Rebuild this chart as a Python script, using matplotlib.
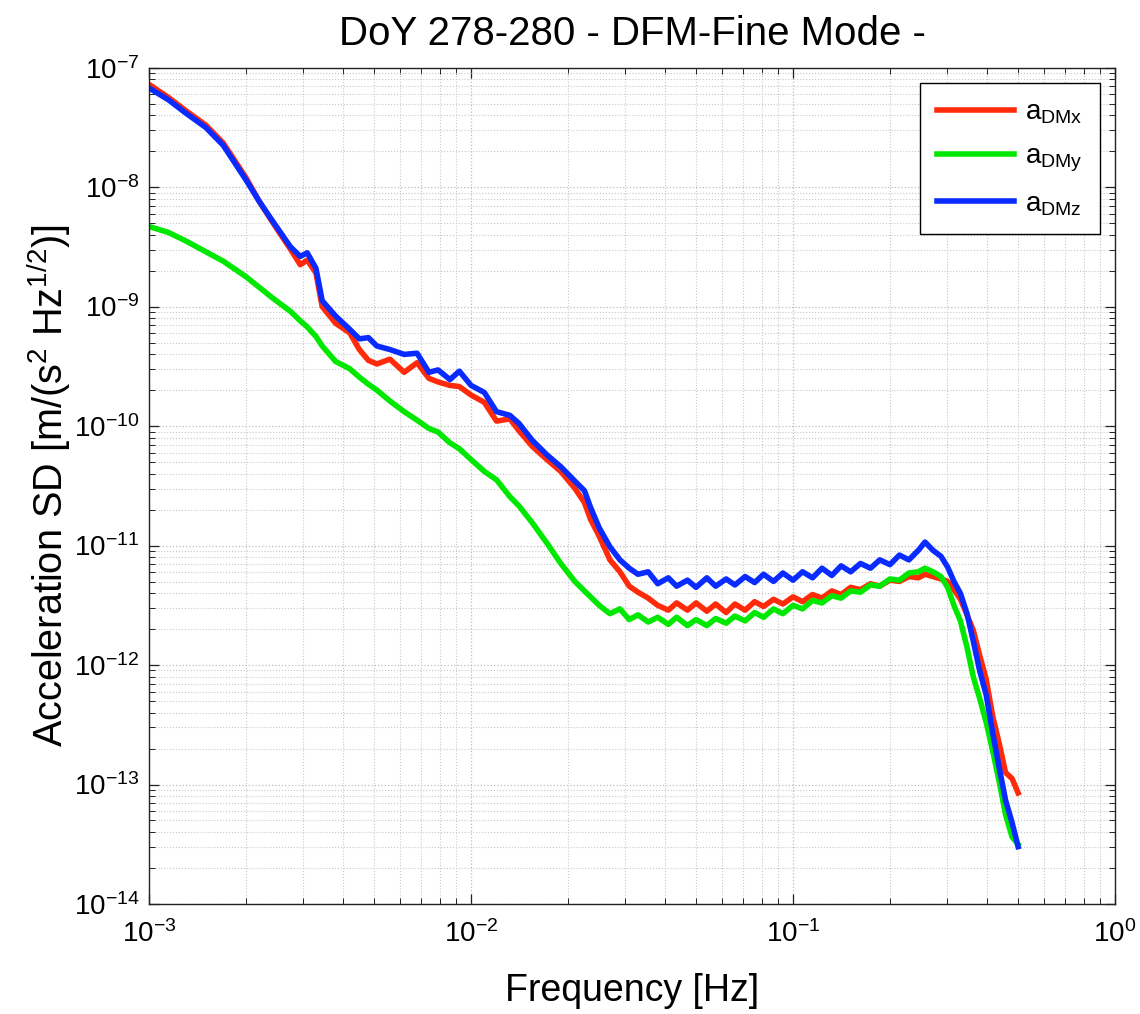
import numpy as np
import matplotlib
matplotlib.use("Agg")
import matplotlib.pyplot as plt
from matplotlib.ticker import LogLocator, LogFormatterMathtext

plt.rcParams['font.family'] = ['Liberation Sans', 'DejaVu Sans']
plt.rcParams['mathtext.fontset'] = 'custom'
plt.rcParams['mathtext.rm'] = 'Liberation Sans'
plt.rcParams['mathtext.it'] = 'Liberation Sans:italic'
plt.rcParams['mathtext.default'] = 'regular'

# frequency bins [Hz]
freq = [1.0e-3, 1.15e-3, 1.3e-3, 1.5e-3, 1.7e-3, 2.0e-3, 2.2e-3, 2.4e-3, 2.75e-3, 2.95e-3,
        3.1e-3, 3.3e-3, 3.45e-3, 3.8e-3, 4.2e-3, 4.5e-3, 4.8e-3, 5.1e-3, 5.6e-3, 6.2e-3,
        6.8e-3, 7.4e-3, 7.9e-3, 8.6e-3, 9.2e-3, 1.0e-2, 1.1e-2, 1.2e-2, 1.32e-2, 1.41e-2,
        1.55e-2, 1.72e-2, 1.9e-2, 2.1e-2, 2.25e-2, 2.35e-2, 2.5e-2, 2.7e-2, 2.9e-2, 3.1e-2,
        3.3e-2, 3.55e-2, 3.8e-2, 4.1e-2, 4.35e-2, 4.7e-2, 5.0e-2, 5.4e-2, 5.75e-2, 6.2e-2,
        6.6e-2, 7.1e-2, 7.6e-2, 8.1e-2, 8.7e-2, 9.3e-2, 0.100, 0.107, 0.115, 0.123,
        0.132, 0.141, 0.151, 0.162, 0.174, 0.186, 0.200, 0.214, 0.229, 0.245,
        0.257, 0.272, 0.288, 0.302, 0.316, 0.331, 0.347, 0.363, 0.380, 0.398,
        0.417, 0.437, 0.457, 0.479, 0.500]

# acceleration SD [m/(s^2 Hz^1/2)]
asd_x = [7.24e-8, 5.62e-8, 4.37e-8, 3.31e-8, 2.34e-8, 1.20e-8, 7.59e-9, 5.25e-9, 3.02e-9, 2.24e-9,
         2.45e-9, 1.91e-9, 1.00e-9, 7.24e-10, 6.03e-10, 4.37e-10, 3.55e-10, 3.31e-10, 3.63e-10, 2.82e-10,
         3.39e-10, 2.51e-10, 2.34e-10, 2.19e-10, 2.14e-10, 1.82e-10, 1.58e-10, 1.10e-10, 1.15e-10, 9.12e-11,
         6.76e-11, 5.25e-11, 4.17e-11, 3.02e-11, 2.29e-11, 1.66e-11, 1.20e-11, 7.59e-12, 6.03e-12, 4.57e-12,
         4.07e-12, 3.63e-12, 3.16e-12, 2.88e-12, 3.31e-12, 2.88e-12, 3.31e-12, 2.82e-12, 3.24e-12, 2.75e-12,
         3.24e-12, 2.88e-12, 3.39e-12, 3.09e-12, 3.55e-12, 3.24e-12, 3.72e-12, 3.39e-12, 3.89e-12, 3.63e-12,
         4.17e-12, 3.89e-12, 4.47e-12, 4.27e-12, 4.79e-12, 4.57e-12, 5.13e-12, 5.01e-12, 5.50e-12, 5.37e-12,
         5.75e-12, 5.50e-12, 5.25e-12, 5.01e-12, 4.27e-12, 3.55e-12, 2.63e-12, 1.95e-12, 1.20e-12, 7.59e-13,
         3.72e-13, 2.19e-13, 1.26e-13, 1.12e-13, 8.51e-14]

asd_y = [4.68e-9, 4.17e-9, 3.55e-9, 2.88e-9, 2.40e-9, 1.78e-9, 1.45e-9, 1.20e-9, 9.12e-10, 7.59e-10,
         6.76e-10, 5.62e-10, 4.68e-10, 3.47e-10, 3.02e-10, 2.57e-10, 2.24e-10, 2.00e-10, 1.62e-10, 1.32e-10,
         1.12e-10, 9.55e-11, 8.91e-11, 7.24e-11, 6.46e-11, 5.25e-11, 4.17e-11, 3.55e-11, 2.57e-11, 2.14e-11,
         1.55e-11, 1.05e-11, 7.08e-12, 5.01e-12, 4.17e-12, 3.72e-12, 3.16e-12, 2.69e-12, 2.95e-12, 2.40e-12,
         2.63e-12, 2.29e-12, 2.51e-12, 2.19e-12, 2.51e-12, 2.14e-12, 2.40e-12, 2.14e-12, 2.45e-12, 2.24e-12,
         2.57e-12, 2.34e-12, 2.75e-12, 2.51e-12, 2.95e-12, 2.69e-12, 3.16e-12, 2.95e-12, 3.47e-12, 3.31e-12,
         3.80e-12, 3.63e-12, 4.17e-12, 4.07e-12, 4.68e-12, 4.57e-12, 5.25e-12, 5.13e-12, 5.89e-12, 6.03e-12,
         6.46e-12, 6.03e-12, 5.50e-12, 4.47e-12, 3.16e-12, 2.34e-12, 1.41e-12, 7.94e-13, 5.25e-13, 3.31e-13,
         1.91e-13, 1.05e-13, 5.62e-14, 3.63e-14, 3.16e-14]

asd_z = [6.76e-8, 5.37e-8, 4.17e-8, 3.16e-8, 2.24e-8, 1.15e-8, 7.59e-9, 5.37e-9, 3.16e-9, 2.63e-9,
         2.82e-9, 2.09e-9, 1.12e-9, 8.32e-10, 6.46e-10, 5.37e-10, 5.50e-10, 4.68e-10, 4.37e-10, 3.98e-10,
         4.07e-10, 2.82e-10, 2.95e-10, 2.45e-10, 2.88e-10, 2.19e-10, 1.91e-10, 1.32e-10, 1.23e-10, 1.05e-10,
         7.59e-11, 5.75e-11, 4.57e-11, 3.47e-11, 2.88e-11, 2.09e-11, 1.41e-11, 9.77e-12, 7.59e-12, 6.46e-12,
         5.75e-12, 6.03e-12, 4.79e-12, 5.37e-12, 4.57e-12, 5.13e-12, 4.47e-12, 5.37e-12, 4.57e-12, 5.25e-12,
         4.68e-12, 5.50e-12, 4.90e-12, 5.75e-12, 5.01e-12, 5.89e-12, 5.13e-12, 6.03e-12, 5.37e-12, 6.46e-12,
         5.62e-12, 6.76e-12, 6.03e-12, 7.08e-12, 6.46e-12, 7.59e-12, 6.92e-12, 8.32e-12, 7.59e-12, 9.12e-12,
         1.07e-11, 9.12e-12, 8.13e-12, 6.61e-12, 5.01e-12, 3.98e-12, 2.69e-12, 1.58e-12, 8.91e-13, 5.62e-13,
         2.69e-13, 1.38e-13, 7.41e-14, 4.79e-14, 3.02e-14]

labels = [r'$a_{DMx}$', r'$a_{DMy}$', r'$a_{DMz}$']
colors = ['#ff2a0a', '#00e800', '#0a2bff']

# decades shown on the axes
x_decades = [1e-3, 1e-2, 1e-1, 1e0]
y_decades = [1e-14, 1e-13, 1e-12, 1e-11, 1e-10, 1e-9, 1e-8, 1e-7]

fig = plt.figure(figsize=(11.4, 10.14), dpi=100)
ax = fig.add_axes([0.1307, 0.1085, 0.8474, 0.8248])

for series, lab, col in zip([asd_x, asd_y, asd_z], labels, colors):
    ax.loglog(freq, series, color=col, lw=4, label=lab)

ax.set_xlim(x_decades[0], x_decades[-1])
ax.set_ylim(y_decades[0], y_decades[-1])

ax.set_xticks(x_decades)
ax.set_yticks(y_decades)
ax.xaxis.set_minor_locator(LogLocator(base=10, subs=np.arange(2, 10), numticks=100))
ax.yaxis.set_minor_locator(LogLocator(base=10, subs=np.arange(2, 10), numticks=100))
ax.xaxis.set_major_formatter(LogFormatterMathtext())
ax.yaxis.set_major_formatter(LogFormatterMathtext())

ax.grid(True, which='major', ls=':', color='#bdbdbd', lw=0.9)
ax.grid(True, which='minor', ls=':', color='#c8c8c8', lw=0.8)
ax.set_axisbelow(True)

ax.tick_params(which='both', direction='in', top=True, right=True, color='#222222')
ax.tick_params(which='major', length=7, width=0.9, labelsize=20, pad=7)
ax.tick_params(which='minor', length=4, width=0.7)
ax.tick_params(axis='x', which='major', pad=12)
for sp in ax.spines.values():
    sp.set_linewidth(1.0)
    sp.set_color('#222222')

ax.set_title('DoY 278-280 - DFM-Fine Mode -', fontsize=29, pad=16)
ax.set_xlabel('Frequency [Hz]', fontsize=27)
ax.xaxis.set_label_coords(0.5, -0.083)
ax.set_ylabel(r'Acceleration SD [m/(s$^2$ Hz$^{1/2}$)]', fontsize=28.5)
ax.yaxis.set_label_coords(-0.079, 0.5)

leg = ax.legend(loc='upper right', fontsize=20, fancybox=False, framealpha=1,
                edgecolor='black', handlelength=2.8, handletextpad=0.4,
                labelspacing=0.62, borderpad=0.6, borderaxespad=0.55)
leg.get_frame().set_linewidth(1.0)

fig.savefig('out.png', dpi=100, facecolor='white')
